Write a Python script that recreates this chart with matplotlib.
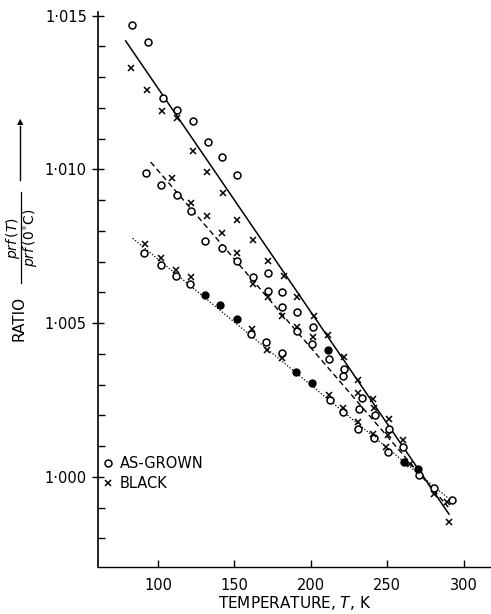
import numpy as np
import matplotlib.pyplot as plt
from matplotlib.ticker import FixedLocator, FixedFormatter, MultipleLocator

# fitted lines (end points)
solid_T = [78.8, 290.5]
solid_R = [1.01418, 0.99879]
dash_T = [95.2, 290.0]
dash_R = [1.01024, 0.99902]
dot_T = [83.4, 290.0]
dot_R = [1.00776, 0.99931]

# as-grown (open circles)
grown_T = [82.7, 93.6, 103.1, 112.7, 122.7, 132.6, 142.2, 152.0,
           91.9, 102.0, 112.3, 121.6, 131.0, 141.8, 151.6,
           91.0, 102.0, 111.8, 121.0,
           171.8, 162.0, 181.3, 171.7, 181.3, 191.3, 201.4, 191.3, 200.9,
           160.9, 170.8, 181.3, 212.1, 221.5, 220.9, 233.8, 231.4, 241.8,
           251.1, 212.8, 220.9, 231.1, 241.2, 250.4, 260.5, 270.7, 280.5, 292.6]
grown_R = [1.01471, 1.01416, 1.01232, 1.01192, 1.01157, 1.01090, 1.01040, 1.00983,
           1.00988, 1.00949, 1.00916, 1.00864, 1.00768, 1.00744, 1.00701,
           1.00727, 1.00690, 1.00655, 1.00629,
           1.00663, 1.00649, 1.00601, 1.00603, 1.00554, 1.00536, 1.00488, 1.00473, 1.00431,
           1.00465, 1.00438, 1.00404, 1.00384, 1.00351, 1.00328, 1.00258, 1.00221, 1.00201,
           1.00157, 1.00250, 1.00212, 1.00157, 1.00125, 1.00082, 1.00098, 1.00006, 0.99964, 0.99924]

# black (crosses)
black_T = [82.1, 92.6, 102.6, 112.3, 122.7, 131.9, 109.2, 142.4, 121.6, 131.9,
           152.0, 142.0, 151.6, 91.5, 102.0, 111.8, 121.4,
           162.5, 171.8, 182.6, 162.0, 171.7, 190.9, 181.3, 201.8, 201.4, 191.3,
           161.4, 171.3, 181.3, 211.3, 221.5, 230.6, 230.6, 240.8, 241.2,
           251.5, 250.6, 211.7, 221.1, 230.6, 240.8, 249.5, 260.5, 265.2,
           280.5, 289.3, 290.4]
black_R = [1.01331, 1.01258, 1.01190, 1.01166, 1.01060, 1.00992, 1.00971, 1.00923, 1.00890, 1.00849,
           1.00837, 1.00792, 1.00728, 1.00759, 1.00712, 1.00674, 1.00649,
           1.00772, 1.00703, 1.00652, 1.00627, 1.00584, 1.00584, 1.00522, 1.00522, 1.00456, 1.00489,
           1.00482, 1.00413, 1.00386, 1.00462, 1.00391, 1.00315, 1.00272, 1.00253, 1.00223,
           1.00188, 1.00136, 1.00266, 1.00225, 1.00179, 1.00141, 1.00098, 1.00120, 1.00043,
           0.99946, 0.99918, 0.99853]

# filled circles
full_T = [130.6, 140.7, 152.0, 190.5, 201.0, 211.1, 261.3, 270.0]
full_R = [1.00592, 1.00560, 1.00514, 1.00342, 1.00305, 1.00413, 1.00049, 1.00027]

ytick_vals = [1.000, 1.005, 1.010, 1.015]
ytick_labels = ['1·000', '1·005', '1·010', '1·015']
xtick_vals = [100, 150, 200, 250, 300]

plt.rcParams['font.family'] = 'DejaVu Sans'
plt.rcParams['mathtext.fontset'] = 'dejavusans'
fig = plt.figure(figsize=(4.91, 6.14), dpi=100)
ax = fig.add_axes([98/491, 47/614, 393/491, 555/614])
ax.set_xlim(60.7, 318)
ax.set_ylim(0.99707, 1.01512)

ax.plot(solid_T, solid_R, color='black', lw=1.1)
ax.plot(dash_T, dash_R, color='black', lw=1.0, linestyle=(0, (4, 2.5)))
ax.plot(dot_T, dot_R, color='black', lw=0.9, linestyle=(0, (1, 1.5)))

ax.plot(grown_T, grown_R, 'o', mfc='white', mec='black', mew=1.1, ms=5, ls='none', label='AS-GROWN')
ax.plot(black_T, black_R, 'x', color='black', mew=1.1, ms=5, ls='none', label='BLACK')
ax.plot(full_T, full_R, 'o', color='black', ms=5, ls='none')

for s in ['top', 'right']:
    ax.spines[s].set_visible(False)
ax.spines['left'].set_linewidth(1.2)
ax.spines['bottom'].set_linewidth(1.0)

ax.yaxis.set_major_locator(FixedLocator(ytick_vals))
ax.yaxis.set_major_formatter(FixedFormatter(ytick_labels))
ax.yaxis.set_minor_locator(MultipleLocator(0.001))
ax.xaxis.set_major_locator(FixedLocator(xtick_vals))
ax.tick_params(axis='y', which='major', direction='inout', length=9, width=1, labelsize=10.5)
ax.tick_params(axis='y', which='minor', direction='in', length=5, width=1)
ax.tick_params(axis='x', which='major', direction='in', length=5, width=1, labelsize=10.5, pad=8)

ax.set_xlabel('TEMPERATURE, $\\mathit{T}$, K', fontsize=11, labelpad=1)

# y label: RATIO, fraction (numerator, bar, denominator) and an upward arrow
fig.text(19/491, 1 - 318/614, 'RATIO', rotation=90, ha='center', va='center', fontsize=11)
fig.text(13/491, 1 - 238/614, r'$prf\,(T)$', rotation=90, ha='center', va='center', fontsize=10)
fig.add_artist(plt.Line2D([21/491, 21/491], [1 - 283/614, 1 - 192/614], color='black', lw=0.9))
fig.text(30/491, 1 - 238/614, r'$prf\,(0^{\circ}\mathrm{C})$', rotation=90, ha='center', va='center', fontsize=10)
fig.add_artist(plt.Line2D([20/491, 20/491], [1 - 180/614, 1 - 126/614], color='black', lw=1))
fig.text(20/491, 1 - 122/614, '▲', rotation=0, ha='center', va='center', fontsize=6)

ax.legend(loc='upper left', bbox_to_anchor=(0.0, 0.21), frameon=False, fontsize=10.5,
          handlelength=0.6, handletextpad=0.5, labelspacing=0.3, borderaxespad=0.0)

fig.savefig('out.png', dpi=100)
